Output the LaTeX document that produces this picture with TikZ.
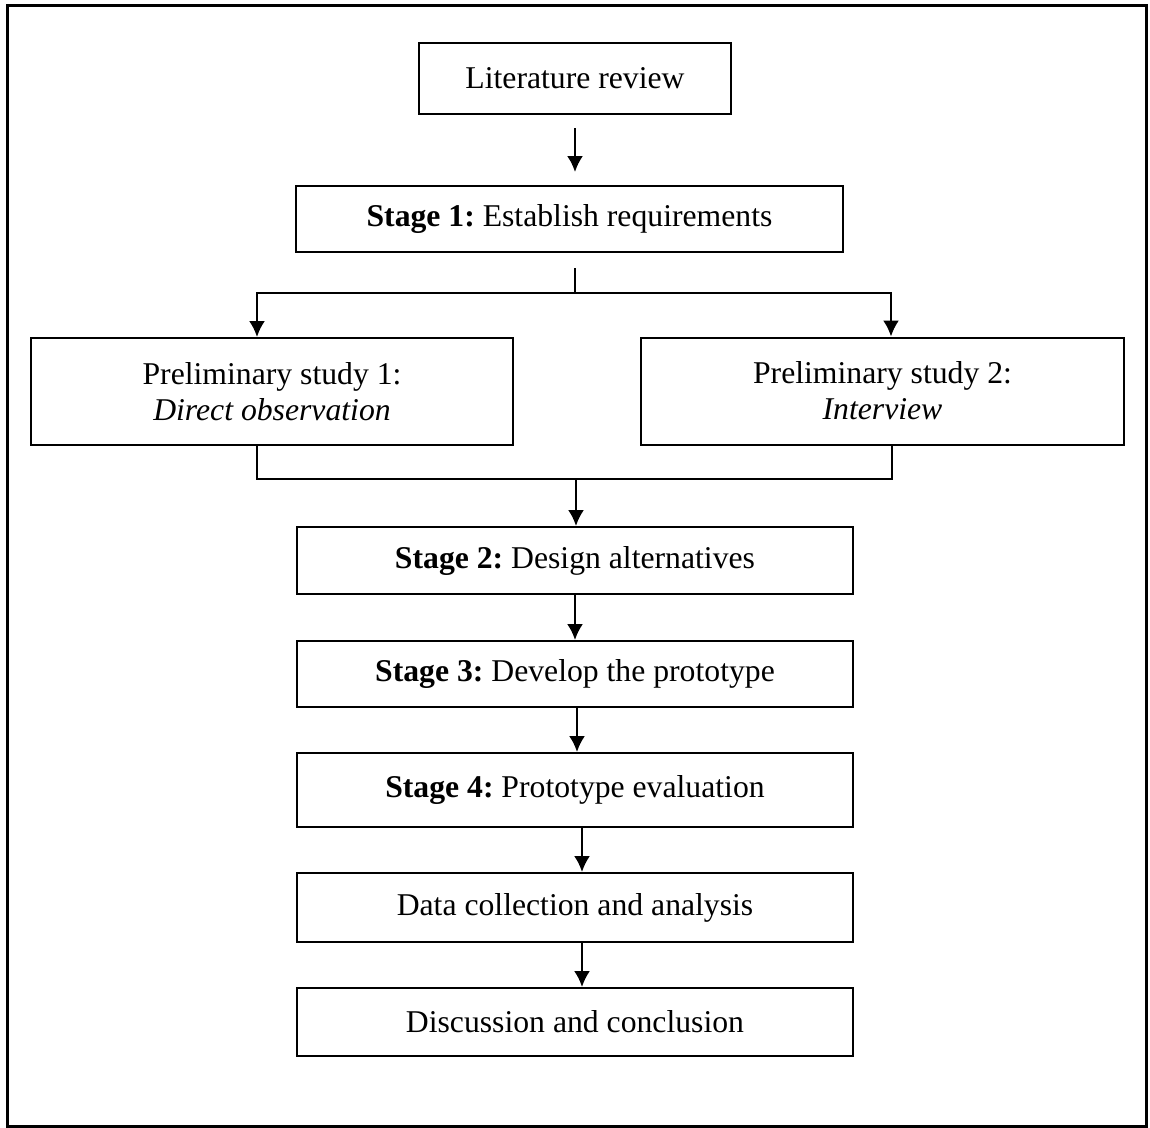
\documentclass[tikz,border=0pt]{standalone}
\usepackage{fontspec}
\setmainfont{Liberation Serif}
\usetikzlibrary{arrows.meta,positioning}
\frenchspacing

\begin{document}
\begin{tikzpicture}[
x=1pt,
y=-1pt,
box/.style={
  draw,
  line width=2pt,
  minimum height=67pt,
  inner sep=0pt,
  align=center,
  font=\fontsize{31.7}{36}\selectfont
  },
stagebox/.style={
  box,
  minimum width=556pt
  },
studybox/.style={
  box,
  minimum width=482pt,
  minimum height=107pt
  },
link/.style={
  line width=2.2pt
  },
>={Latex[length=16pt,width=16pt]}
]
\useasboundingbox (0,0) rectangle (1150,1127);
\draw[line width=3pt] (7,5) rectangle (1146,1126);

\node[box, minimum width=312pt, minimum height=71pt] (lit) at (575,78.5) {Literature review};
\node[box, minimum width=547pt, minimum height=66pt] (stage1) at (569.5,219) {\textbf{Stage 1:} Establish requirements};
\node[studybox] (study1) at (272,391.5) {Preliminary study 1:\\\textit{Direct observation}};
\node[studybox, minimum width=483pt] (study2) at (882.5,391) {Preliminary study 2:\\\textit{Interview}};
\node[stagebox] (stage2) at (575,560.5) {\textbf{Stage 2:} Design alternatives};
\node[stagebox, minimum height=66pt] (stage3) at (575,674) {\textbf{Stage 3:} Develop the prototype};
\node[stagebox, minimum height=74pt] (stage4) at (575,790) {\textbf{Stage 4:} Prototype evaluation};
\node[stagebox, minimum height=69pt] (data) at (575,907.5) {Data collection and analysis};
\node[stagebox, minimum height=68pt] (disc) at (575,1022) {Discussion and conclusion};

% split into the two studies
\coordinate (splitM) at (575,293);
\coordinate (splitL) at (257,293);
\coordinate (splitR) at (891,293);
% join after the two studies
\coordinate (joinL) at (257,479);
\coordinate (joinR) at (892,479);
\coordinate (joinM) at (576,479);

\draw[link,->, shorten <=13pt, shorten >=13pt] (lit.south) -- (lit.south |- stage1.north);
\draw[link] (stage1.south -| splitM) ++(0,15) -- (splitM);
\draw[link,->] (splitM) -- (splitL) -- (splitL |- study1.north);
\draw[link,->] (splitM) -- (splitR) -- (splitR |- study2.north);
\draw[link] (study1.south -| joinL) -- (joinL) -- (joinR) -- (study2.south -| joinR);
\draw[link,->] (joinM) -- (joinM |- stage2.north);
\draw[link,->] (stage2) -- (stage3);
\draw[link,->] ([xshift=2pt]stage3.south) -- ([xshift=2pt]stage4.north);
\draw[link,->] ([xshift=7pt]stage4.south) -- ([xshift=7pt]data.north);
\draw[link,->] ([xshift=7pt]data.south) -- ([xshift=7pt]disc.north);
\end{tikzpicture}
\end{document}
